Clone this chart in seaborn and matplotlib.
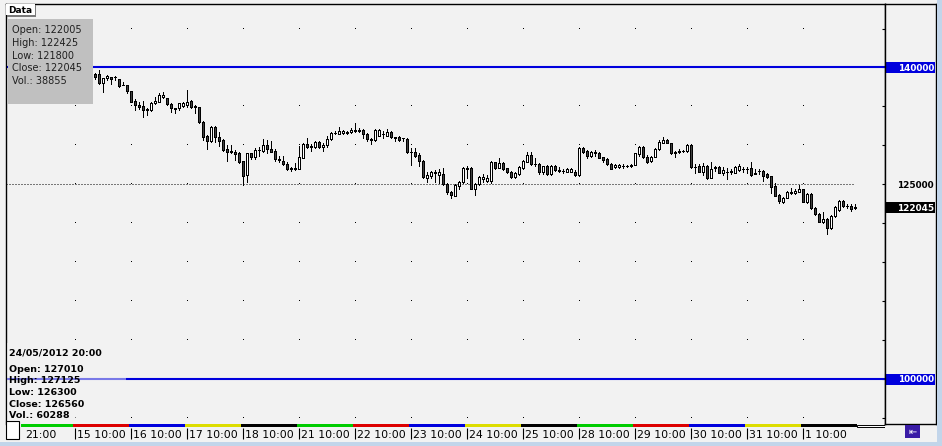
import matplotlib
matplotlib.use("Agg")
import numpy as np
import matplotlib.pyplot as plt
import seaborn as sns
from matplotlib.patches import Rectangle

# ---------------- data ----------------
opens = [139120, 139162, 137964, 138606, 138734, 138820, 138478, 137793, 137750, 136980,
         135738, 135182, 135054, 134626, 134540, 135396, 135610, 136166, 136038, 135310,
         134754, 134754, 135054, 135182, 135738, 135011, 134882, 133042, 131202, 130560,
         132400, 131116, 130688, 129532, 129233, 129190, 128976, 127992, 126194, 128976,
         128462, 129404, 129276, 130003, 129532, 129276, 128291, 128034, 127564, 127050,
         127007, 127007, 128420, 130174, 129875, 129832, 130431, 129746, 130003, 130774,
         131544, 131458, 131544, 131715, 131672, 131844, 131929, 131972, 131416, 130774,
         130645, 131244, 131458, 131244, 131758, 131030, 131116, 130988, 130816, 129147,
         129190, 128762, 127992, 125766, 126108, 126536, 126194, 126280, 125038, 123968,
         123540, 124824, 125338, 127050, 127136, 124396, 125038, 125680, 125466, 125466,
         127820, 127136, 127778, 127050, 126536, 125894, 126322, 127050, 127906, 128762,
         127607, 127564, 126622, 127350, 126280, 127392, 126793, 126708, 126622, 126622,
         126622, 126194, 129704, 129276, 128676, 129104, 128976, 128462, 128248, 127606,
         127178, 127264, 127392, 127350, 127521, 127521, 128890, 129746, 128548, 128034,
         128548, 129490, 130346, 130688, 130260, 129104, 129233, 129276, 129233, 130046,
         127264, 127392, 126622, 127392, 125852, 127178, 127264, 126408, 126622, 126665,
         126494, 126836, 126964, 126964, 127050, 126408, 126750, 126750, 126280, 126066,
         124782, 123626, 122770, 123284, 123968, 123840, 124054, 124354, 122770, 123754,
         122000, 121186, 120202, 120502, 119346, 120972, 121700, 122856, 122256, 122214,
         122005]
highs = [139248, 139676, 138690, 139034, 138820, 138948, 138563, 138178, 137793, 137022,
         135910, 135610, 135738, 134840, 135610, 136252, 136766, 136894, 136124, 135396,
         134840, 135482, 135524, 137108, 135824, 135182, 134968, 133085, 131330, 132486,
         132486, 131758, 130774, 130046, 130046, 129404, 129190, 128034, 129062, 129062,
         129618, 129746, 130774, 130688, 130602, 129490, 128676, 128634, 127820, 127178,
         127692, 129918, 130260, 130902, 130174, 130602, 130602, 130260, 131202, 131715,
         131886, 132400, 131972, 131801, 132186, 132828, 132272, 132100, 131544, 130988,
         132100, 132100, 131844, 132100, 131844, 131030, 131159, 130988, 130902, 129618,
         129618, 128976, 128120, 126622, 126750, 126836, 126922, 127050, 125124, 124140,
         124996, 125424, 127264, 127392, 127178, 125210, 126066, 126322, 126194, 127992,
         127906, 128334, 127906, 127136, 126708, 126536, 127350, 128120, 129104, 129104,
         128334, 127692, 127392, 127478, 127478, 127478, 127178, 126964, 127050, 127050,
         126836, 129832, 129832, 129404, 129276, 129404, 129104, 128548, 128334, 127692,
         127606, 127606, 127606, 127478, 127606, 129062, 129918, 129918, 128762, 128676,
         129618, 130688, 131030, 130816, 130346, 129318, 129490, 129404, 130174, 130090,
         127606, 127606, 127692, 127478, 127820, 127350, 127350, 127178, 127050, 126922,
         127350, 127564, 127178, 127264, 127820, 126922, 126922, 126836, 126494, 126108,
         125124, 123712, 123412, 124140, 124482, 124396, 124910, 124396, 123840, 123840,
         122042, 121272, 121486, 120630, 121058, 122214, 122984, 122984, 122470, 122428,
         122425]
lows = [138520, 137880, 136808, 138392, 137878, 138392, 137536, 137707, 136680, 135567,
        134540, 134626, 133684, 133898, 134454, 135353, 135567, 136124, 135182, 134326,
        134112, 134540, 134968, 134968, 134754, 134112, 132914, 130688, 129490, 130474,
        130474, 129918, 129318, 128034, 129062, 128120, 127778, 124910, 125338, 128291,
        128291, 128676, 129190, 129062, 129147, 128034, 127906, 127478, 126836, 126708,
        126836, 126922, 128334, 129618, 129318, 129704, 129618, 129318, 129832, 130688,
        131416, 131416, 131458, 131416, 131630, 131758, 131758, 130902, 130560, 130132,
        130560, 131159, 130902, 131159, 130902, 130560, 130602, 130602, 129062, 127478,
        128548, 127392, 125852, 125338, 125766, 125338, 125124, 124910, 123754, 123198,
        123498, 124396, 125210, 125766, 124350, 123626, 124910, 125338, 125338, 125124,
        126964, 127050, 126836, 126408, 125852, 125852, 126194, 126922, 127820, 127478,
        127392, 126280, 126280, 126194, 126194, 126708, 126622, 126408, 126536, 126536,
        126108, 126108, 129062, 128420, 128548, 128676, 128334, 127906, 127478, 126922,
        127093, 127136, 127136, 127178, 127264, 127478, 128634, 128377, 127692, 127906,
        128462, 129404, 130260, 130260, 128890, 128548, 128976, 129104, 129147, 127136,
        126494, 126536, 126194, 125680, 125766, 126750, 126408, 126194, 125638, 126280,
        126408, 126708, 126622, 126494, 126108, 126280, 126322, 125466, 125766, 123926,
        123498, 122642, 122642, 123198, 123754, 123754, 123968, 122730, 122556, 121828,
        121058, 120116, 120074, 118618, 119260, 120844, 121614, 122128, 122000, 121614,
        121800]
closes = [138820, 137964, 138606, 138906, 138478, 138777, 137664, 137750, 137022, 135610,
          135139, 134968, 134540, 134583, 135396, 135738, 136466, 136509, 135268, 134754,
          134711, 135396, 135396, 135610, 134968, 134968, 132956, 131116, 130560, 132400,
          131030, 130560, 129404, 129104, 129190, 128890, 127906, 126108, 128976, 128462,
          129404, 129361, 130003, 129490, 129190, 128206, 128077, 127564, 126922, 127007,
          127050, 128462, 130174, 129746, 129832, 130431, 129746, 130046, 130816, 131630,
          131587, 131886, 131886, 131544, 132015, 131972, 131886, 131416, 130774, 130731,
          131972, 132015, 131416, 131758, 131030, 130988, 130645, 130945, 129104, 129104,
          128676, 127992, 125894, 126194, 126536, 126493, 126536, 125038, 123968, 123626,
          124910, 125338, 127050, 127007, 124396, 125038, 125894, 125980, 125852, 127820,
          127136, 127692, 126922, 126536, 125894, 126408, 127178, 127992, 128762, 127564,
          127564, 126622, 127350, 126280, 127392, 126836, 126750, 126665, 126964, 126922,
          126194, 129704, 129190, 128676, 129190, 129062, 128420, 128120, 127564, 126964,
          127521, 127521, 127350, 127307, 127350, 128976, 129746, 128462, 127906, 128548,
          129532, 130388, 130688, 130346, 128976, 129062, 129190, 129233, 130046, 127178,
          127221, 126622, 127392, 125766, 126922, 127136, 126494, 126836, 126579, 126622,
          127264, 127392, 126922, 127007, 126194, 126365, 126708, 126108, 125980, 124696,
          123540, 122856, 123198, 123968, 123926, 124182, 124354, 122770, 123754, 121914,
          121144, 120202, 120502, 119346, 120972, 122128, 122856, 122256, 122214, 121786,
          122045]

first_slot = 18            # slots 0..17 lie behind the data box
day_labels = ["21:00", "15 10:00", "16 10:00", "17 10:00", "18 10:00", "21 10:00",
              "22 10:00", "23 10:00", "24 10:00", "25 10:00", "28 10:00", "29 10:00",
              "30 10:00", "31 10:00", "1 10:00"]
day_start_slots = [0, 13, 27, 41, 55, 69, 83, 97, 111, 125, 139, 153, 167, 181, 195]
strip_colors = ["#00cc00", "#dd0000", "#0000dd", "#dddd00", "#000000"]
grid_levels = list(range(95000, 150000, 5000))
blue_levels = [140000, 100000]
ref_level = 125000
info_fields = ["Open", "High", "Low", "Close", "Vol."]
info_values = [122005, 122425, 121800, 122045, 38855]
hover_date = "24/05/2012 20:00"
hover_values = [127010, 127125, 126300, 126560, 60288]

# ---------------- figure ----------------
sns.set_theme(style="white")
plt.rcParams['font.family'] = ['DejaVu Sans']

W, H = 942, 446
BG = '#f2f2f2'
BLUE = '#0000dd'
PX = 0.72  # one pixel in points at dpi 100
fig = plt.figure(figsize=(W / 100, H / 100), dpi=100, facecolor=BG)


def fx(x):
    return x / W


def fy(y):
    return 1 - y / H


def add_px_axes(x0, y0, x1, y1):
    return fig.add_axes([x0 / W, 1 - y1 / H, (x1 - x0) / W, (y1 - y0) / H])


def fig_rect(x0, y0, x1, y1, **kw):
    r = Rectangle((fx(x0), fy(y1)), (x1 - x0) / W, (y1 - y0) / H,
                  transform=fig.transFigure, **kw)
    fig.add_artist(r)
    return r


x_min = -4.125
x_max = x_min + 879 / 4
y_lo, y_hi = 94222, 148150
last_slot = first_slot + len(opens) - 1

# main price panel
ax = add_px_axes(6, 4, 885, 424)
ax.set_facecolor(BG)
ax.set_xlim(x_min, x_max)
ax.set_ylim(y_lo, y_hi)
for s in ['left', 'top', 'right']:
    ax.spines[s].set_visible(True)
    ax.spines[s].set_color('black')
    ax.spines[s].set_linewidth(1.0)
ax.spines['bottom'].set_visible(False)
ax.set_xticks([])
ax.yaxis.tick_right()
ax.set_yticks(grid_levels)
ax.tick_params(axis='y', direction='in', length=2.5, width=0.8, color='black',
               labelright=False, labelleft=False, right=True, left=False)

# grid dots
gx, gy = np.meshgrid(day_start_slots[1:], grid_levels)
ax.plot(gx.ravel(), gy.ravel(), linestyle='none', marker=',', color='black', zorder=1)

# reference dotted line
ax.plot([x_min, last_slot], [ref_level, ref_level], color='black', lw=PX,
        linestyle=(0, (1, 2)), zorder=1)

# blue horizontal levels
for v in blue_levels:
    ax.axhline(v, color=BLUE, lw=1.5, zorder=2)

# candles
o = np.array(opens)
h = np.array(highs)
l = np.array(lows)
c = np.array(closes)
xs = np.arange(len(o)) + first_slot
up = c >= o
ax.vlines(xs, l, h, color='black', lw=PX, antialiased=False, zorder=3)
ax.bar(xs, np.abs(c - o), bottom=np.minimum(o, c), width=0.5,
       color=np.where(up, 'white', '#404040'), edgecolor='black', linewidth=PX,
       antialiased=False, zorder=4)

# right price panel
axr = add_px_axes(885, 4, 936, 424)
axr.set_facecolor(BG)
axr.set_xlim(0, 51)
axr.set_ylim(y_lo, y_hi)
axr.set_xticks([])
axr.set_yticks([])
for s in ['left', 'top', 'right', 'bottom']:
    axr.spines[s].set_visible(True)
    axr.spines[s].set_color('black')
    axr.spines[s].set_linewidth(1.0)
half = 5.5 * 128.4
lab_kw = dict(ha='right', va='center_baseline', fontsize=6.4, fontweight='bold')
for v in blue_levels:
    axr.add_patch(Rectangle((0, v - half), 50, 2 * half, facecolor=BLUE, edgecolor='none'))
    axr.text(49, v, f"{v}", color='white', **lab_kw)
axr.text(49, ref_level, f"{ref_level}", color='black', **lab_kw)
axr.add_patch(Rectangle((0, closes[-1] - half), 50, 2 * half, facecolor='black', edgecolor='none'))
axr.text(49, closes[-1], f"{closes[-1]}", color='white', **lab_kw)

# time strip and labels
axs = add_px_axes(6, 424, 885, 442)
axs.set_xlim(x_min, x_max)
axs.set_ylim(18, 0)
axs.axis('off')
ends = day_start_slots[1:] + [last_slot + 1]
for i, (s0, s1) in enumerate(zip(day_start_slots, ends)):
    axs.add_patch(Rectangle((s0 - 0.5, 0), s1 - s0, 3,
                            facecolor=strip_colors[i % len(strip_colors)], edgecolor='none'))
axs.add_patch(Rectangle((last_slot + 0.5, 0.5), x_max - (last_slot + 0.5) - 0.1, 2.5,
                        facecolor='white', edgecolor='black', linewidth=0.7))
axs.vlines(day_start_slots[1:], 4, 15, color='black', lw=0.8)
for s0, lab in zip(day_start_slots, day_labels):
    axs.text(s0 + 0.6, 13.7, lab, fontsize=7.8, va='baseline', ha='left', color='black')

# white square bottom-left
fig_rect(6, 421, 19, 439, facecolor='white', edgecolor='black', linewidth=0.8)

# "Data" tab
fig_rect(7, 5, 36, 16.5, facecolor='#7a7a7a', edgecolor='none')
fig_rect(6, 4, 34.5, 15, facecolor='white', edgecolor='none')
fig.text(fx(8), fy(12.7), "Data", fontsize=6.5, fontweight='bold', va='baseline', color='black')

# info box (last candle)
fig_rect(8, 19, 93, 104, facecolor='#c0c0c0', edgecolor='none')
for i, (f, v) in enumerate(zip(info_fields, info_values)):
    fig.text(fx(12.3), fy(33.3 + 12.7 * i), f"{f}: {v}", fontsize=7, va='baseline',
             color='#202020')

# hover info bottom-left
fig_rect(7, 343, 126, 421, facecolor=BG, alpha=0.5, edgecolor='none')
fig.text(fx(9.3), fy(356), hover_date, fontsize=6.8, fontweight='bold', va='baseline', color='black')
for i, (f, v) in enumerate(zip(info_fields, hover_values)):
    fig.text(fx(9.3), fy(371.7 + 11.7 * i), f"{f}: {v}", fontsize=6.8, fontweight='bold',
             va='baseline', color='black')

# window edges and icon
fig_rect(937, 0, 942, 446, facecolor='#c2d5ea', edgecolor='none')
fig_rect(0, 442, 942, 446, facecolor='#c2d5ea', edgecolor='none')
fig_rect(905, 425, 920, 438, facecolor='#3a1ca6', edgecolor='none')
fig.text(fx(912.5), fy(431.5), "\u21e4", color='white', fontsize=7, ha='center', va='center')

fig.savefig("out.png", dpi=100, facecolor=BG)
